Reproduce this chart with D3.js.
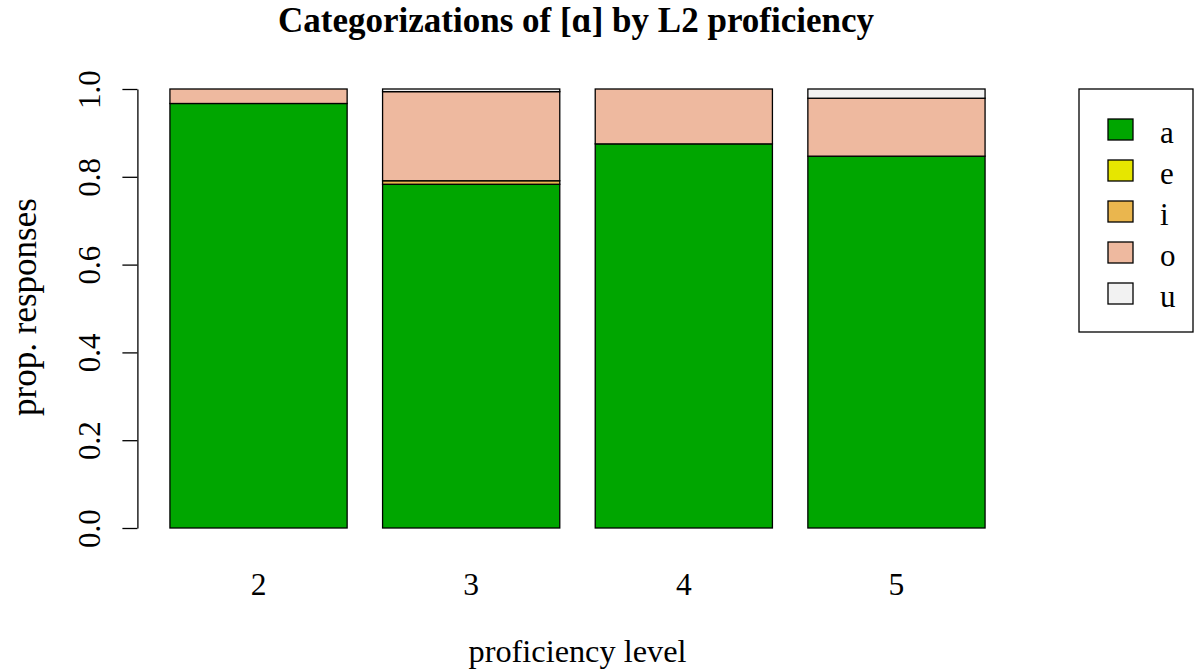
<!DOCTYPE html>
<html>
<head>
<meta charset="utf-8">
<script src="https://cdn.jsdelivr.net/npm/d3@7"></script>
<style>
  html, body { margin: 0; padding: 0; background: #fff; }
  svg { display: block; }
  text { font-family: "Liberation Serif", "Times New Roman", serif; fill: #000; }
</style>
</head>
<body>
<svg id="chart" width="1196" height="671"></svg>
<script>
// Data
const levels = ["2", "3", "4", "5"];
const vowels = ["a", "e", "i", "o", "u"];
const propA = [0.967, 0.783, 0.875, 0.847];
const propE = [0.000, 0.000, 0.000, 0.000];
const propI = [0.000, 0.008, 0.000, 0.000];
const propO = [0.033, 0.203, 0.125, 0.132];
const propU = [0.000, 0.006, 0.000, 0.021];
const yTicks = [0, 0.2, 0.4, 0.6, 0.8, 1.0];
const colors = ["#00A600", "#E6E600", "#EAB64E", "#EEB99F", "#F2F2F2"];

const series = [propA, propE, propI, propO, propU];
const rows = levels.map((lv, i) => {
  const r = { level: lv };
  vowels.forEach((v, k) => r[v] = series[k][i]);
  return r;
});

const svg = d3.select("#chart");

const x = d3.scaleBand()
  .domain(levels)
  .range([137.4, 1017.6])
  .paddingInner(1 / 6)
  .paddingOuter(0.153);

const y = d3.scaleLinear().domain([0, 1]).range([528, 89]);
const color = d3.scaleOrdinal().domain(vowels).range(colors);

const stack = d3.stack().keys(vowels);
const stacked = stack(rows);

const g = svg.append("g");
stacked.forEach(layer => {
  g.selectAll(null)
    .data(layer)
    .enter()
    .append("rect")
    .attr("x", d => x(d.data.level))
    .attr("width", x.bandwidth())
    .attr("y", d => y(d[1]))
    .attr("height", d => Math.max(0, y(d[0]) - y(d[1])))
    .attr("fill", color(layer.key))
    .attr("stroke", "#000")
    .attr("stroke-width", 1.3);
});

// Y axis
const yAxis = d3.axisLeft(y)
  .tickValues(yTicks)
  .tickSize(15)
  .tickSizeOuter(0)
  .tickFormat(d3.format(".1f"));

const ya = svg.append("g")
  .attr("transform", "translate(137.4,0)")
  .call(yAxis);
ya.select(".domain").attr("stroke", "#000").attr("stroke-width", 1.3);
ya.selectAll(".tick line").attr("stroke", "#000").attr("stroke-width", 1.3);
ya.selectAll(".tick text")
  .attr("font-family", "Liberation Serif")
  .attr("font-size", 31)
  .attr("fill", "#000")
  .attr("x", null)
  .attr("dy", null)
  .attr("text-anchor", "middle")
  .attr("transform", "translate(-37.4,0) rotate(-90)");

// X tick labels (no axis line)
svg.append("g")
  .selectAll("text")
  .data(levels)
  .enter()
  .append("text")
  .attr("x", d => x(d) + x.bandwidth() / 2)
  .attr("y", 595)
  .attr("text-anchor", "middle")
  .attr("font-size", 31.5)
  .text(d => d);

// Axis titles
svg.append("text")
  .attr("x", 577.5)
  .attr("y", 662)
  .attr("text-anchor", "middle")
  .attr("font-size", 32.3)
  .text("proficiency level");

svg.append("text")
  .attr("transform", "translate(35.5,307) rotate(-90)")
  .attr("text-anchor", "middle")
  .attr("font-size", 35)
  .text("prop. responses");

// Title
svg.append("text")
  .attr("x", 576)
  .attr("y", 32)
  .attr("text-anchor", "middle")
  .attr("font-size", 35)
  .attr("font-weight", "bold")
  .text("Categorizations of [ɑ] by L2 proficiency");

// Legend
const lg = svg.append("g");
lg.append("rect")
  .attr("x", 1079).attr("y", 89)
  .attr("width", 114).attr("height", 243)
  .attr("fill", "none").attr("stroke", "#000").attr("stroke-width", 1.3);

const items = lg.selectAll("g.item")
  .data(vowels)
  .enter()
  .append("g")
  .attr("class", "item")
  .attr("transform", (d, i) => `translate(0,${119 + i * 41})`);
items.append("rect")
  .attr("x", 1108).attr("y", 0)
  .attr("width", 25).attr("height", 21)
  .attr("fill", d => color(d))
  .attr("stroke", "#000").attr("stroke-width", 1.3);
items.append("text")
  .attr("x", 1160).attr("y", 23.5)
  .attr("font-size", 31)
  .text(d => d);
</script>
</body>
</html>
